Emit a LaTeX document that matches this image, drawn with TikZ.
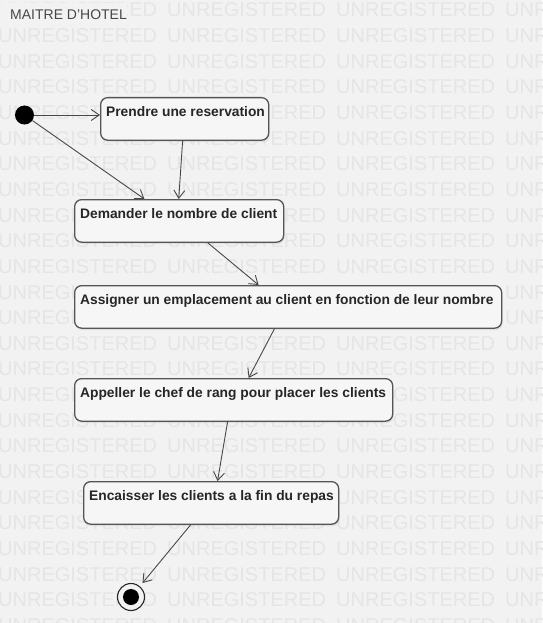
\documentclass[tikz,border=0pt]{standalone}
\usepackage{fontspec}
\setmainfont{Liberation Sans}
\usetikzlibrary{arrows.meta,calc,shadows}
\definecolor{bgc}{HTML}{F2F2F2}
\definecolor{boxc}{HTML}{F6F6F6}
\definecolor{wmc}{HTML}{E5E5E5}
\definecolor{borderc}{HTML}{555555}
\definecolor{textc}{HTML}{262626}
\definecolor{arrowc}{HTML}{484848}
\newcommand{\sttext}[2]{\makebox[#1][l]{#2}}
\begin{document}
\begin{tikzpicture}[x=1pt,y=-1pt,
  state/.style={draw=borderc, line width=1.3pt, rounded corners=7pt, fill=boxc,
    anchor=north west, inner xsep=5.5pt, inner ysep=0pt,
    font=\fontsize{13.8}{16}\selectfont\bfseries, text=textc,
    text height=19pt, text depth=23.5pt,
    drop shadow={shadow xshift=1pt, shadow yshift=-2pt, opacity=0.15}},
  flow/.style={draw=arrowc, line width=0.9pt, -{Straight Barb[length=8pt,width=11pt]}},
  wm/.style={font=\fontsize{20}{20}\selectfont, text=wmc, anchor=west, inner sep=0pt}]
\useasboundingbox (0,0) rectangle (542,623);
\begin{scope}
\clip (0,0) rectangle (542,623);
\fill[bgc] (0,0) rectangle (542,623);
\foreach \k in {0,...,24}{
  \foreach \j in {0,...,3}{
    \node[wm] (wm-\k-\j) at ({-2+169*\j},{10+25.65*\k}) {UNREGISTERED};
  }
}
\end{scope}
% title
\node[anchor=west, fill=bgc, inner xsep=0pt, inner ysep=0pt, minimum height=24pt,
  font=\fontsize{14}{16}\selectfont, text=textc!85!white] (title) at (0,15) {\hspace*{10pt}MAITRE D'HOTEL};
% states
\node[state] (b1) at (100,97) {\sttext{157pt}{Prendre une reservation}};
\node[state] (b2) at (74,199) {\sttext{198pt}{Demander le nombre de client}};
\node[state] (b3) at (74,285) {\sttext{416pt}{Assigner un emplacement au client en fonction de leur nombre}};
\node[state] (b4) at (74,378) {\sttext{307pt}{Appeller le chef de rang pour placer les clients}};
\node[state] (b5) at (83,481) {\sttext{244pt}{Encaisser les clients a la fin du repas}};
% initial and final
\node[circle, fill=black, minimum size=19pt, inner sep=0pt] (init) at (24.5,115) {};
\node[circle, draw=black!85, line width=1.1pt, fill=bgc, minimum size=27pt, inner sep=0pt,
  path picture={\fill[black] (path picture bounding box.center) circle (8pt);}] (final) at (131,597) {};
% transitions
\draw[flow] (init) -- (b1.west |- init);
\draw[flow] (init) -- ($(b2.north west)!0.335!(b2.north east)$);
\draw[flow] ($(b1.south west)!0.488!(b1.south east)$) -- ($(b2.north west)!0.498!(b2.north east)$);
\draw[flow] ($(b2.south west)!0.636!(b2.south east)$) -- ($(b3.north west)!0.431!(b3.north east)$);
\draw[flow] ($(b3.south west)!0.468!(b3.south east)$) -- ($(b4.north west)!0.547!(b4.north east)$);
\draw[flow] ($(b4.south west)!0.481!(b4.south east)$) -- ($(b5.north west)!0.525!(b5.north east)$);
\draw[flow, shorten >=4pt] ($(b5.south west)!0.42!(b5.south east)$) -- (final);
\end{tikzpicture}
\end{document}
